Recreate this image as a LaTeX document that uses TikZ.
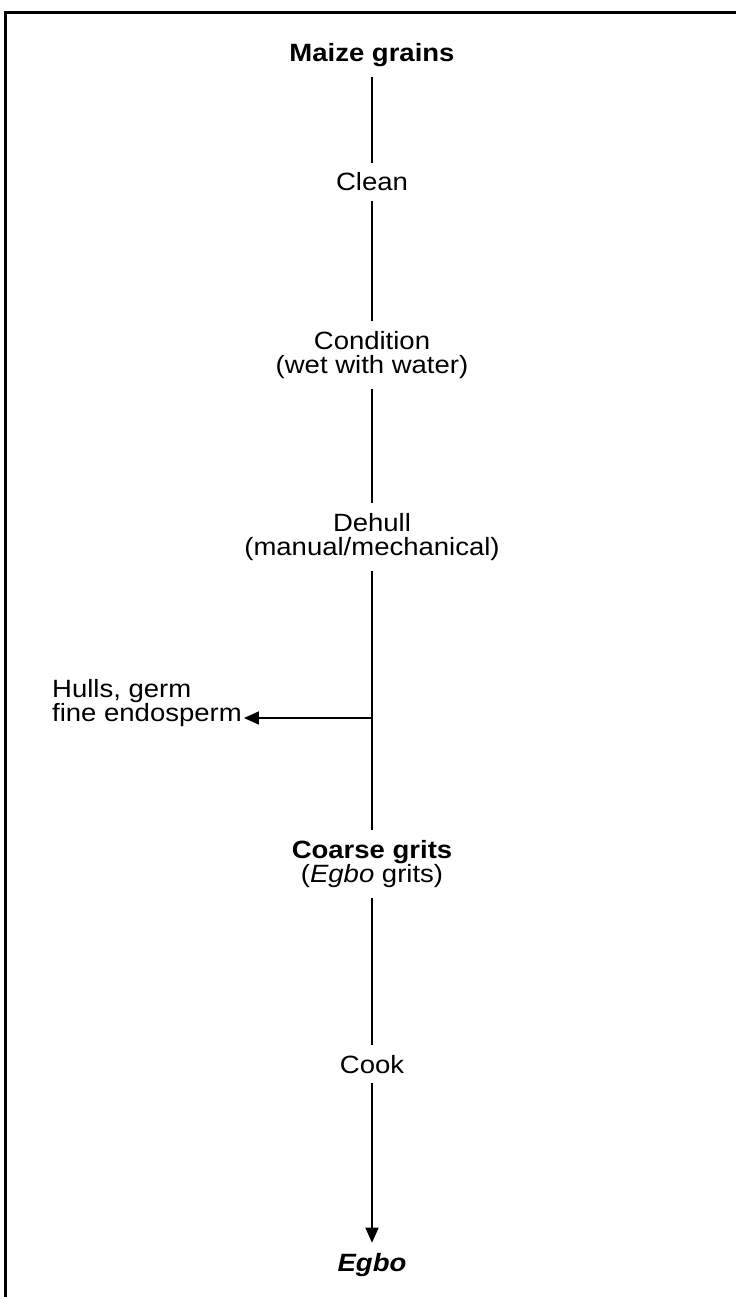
\documentclass[tikz,border=0pt]{standalone}
\usepackage{fontspec}
\setmainfont{Liberation Sans}[FakeStretch=1.1]
\usepackage{tikz}
\usetikzlibrary{positioning, arrows.meta}

\tikzset{
  stage/.style={font=\fontsize{25}{24.5}\selectfont, inner xsep=2pt, inner ysep=10pt, align=center},
  product/.style={stage, font=\fontsize{25}{24.5}\selectfont\bfseries},
  flow/.style={line width=1.7pt},
  tip/.style={-{Triangle[length=15pt, width=13pt]}},
}

\begin{document}
\begin{tikzpicture}[x=1pt, y=-1pt]
  \useasboundingbox (0,0) rectangle (736,1297);
  % frame
  \draw[line width=3pt] (5,1297) -- (5,13) -- (736,13);

  \node[product, anchor=base] (maize) at (372,62) {Maize grains};
  \node[stage, anchor=base] (clean) at (372,191) {Clean};
  \node[stage] (condition) at (372,355) {Condition\\(wet with water)};
  \node[stage] (dehull) at (372,537) {Dehull\\(manual/mechanical)};
  \node[stage, align=left, anchor=west] (hulls) at (50,703) {Hulls, germ\\fine endosperm};
  \node[stage] (grits) at (372,864) {\textbf{Coarse grits}\\(\textit{Egbo} grits)};
  \node[stage, anchor=base] (cook) at (372,1073) {Cook};
  \node[product, anchor=base] (egbo) at (372,1271) {\itshape Egbo};

  \coordinate (split) at (372,718);

  \draw[flow] (maize) -- (clean);
  \draw[flow] (clean) -- (condition);
  \draw[flow] (condition) -- (dehull);
  \draw[flow] (dehull) -- (grits);
  \draw[flow, tip] (split) -- (split -| hulls.east);
  \draw[flow] (grits) -- (cook);
  \draw[flow, tip] (cook) -- (egbo);
\end{tikzpicture}
\end{document}
